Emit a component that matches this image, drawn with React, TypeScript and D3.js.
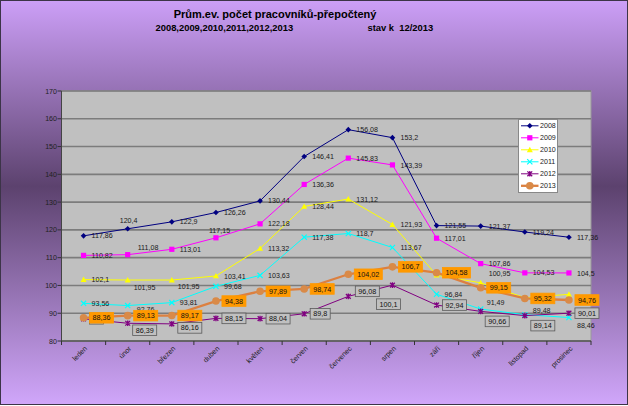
import React, { useEffect } from 'react';
import * as d3 from 'd3';

const months = ['leden', 'únor', 'březen', 'duben', 'květen', 'červen', 'červenec', 'srpen', 'září', 'říjen', 'listopad', 'prosinec'];
const years = ['2008', '2009', '2010', '2011', '2012', '2013'];
const v2008 = [117.86, 120.4, 122.9, 126.26, 130.44, 146.41, 156.08, 153.2, 121.55, 121.37, 119.24, 117.36];
const v2009 = [110.82, 111.08, 113.01, 117.15, 122.18, 136.36, 145.83, 143.39, 117.01, 107.86, 104.53, 104.5];
const v2010 = [102.1, 101.95, 101.95, 103.41, 113.32, 128.44, 131.12, 121.93, 103.7, 100.95, 95.6, 96.8];
const v2011 = [93.56, 92.76, 93.81, 99.68, 103.63, 117.38, 118.7, 113.67, 96.84, 91.49, 89.48, 88.46];
const v2012 = [88.0, 86.39, 86.16, 88.15, 88.04, 89.8, 96.08, 100.1, 92.94, 90.66, 89.14, 90.01];
const v2013 = [88.36, 89.13, 89.17, 94.38, 97.89, 98.74, 104.02, 106.7, 104.58, 99.15, 95.32, 94.76];
const yTicks = [80, 90, 100, 110, 120, 130, 140, 150, 160, 170];

const W = 628;
const H = 406;
const plot = { left: 61.5, right: 591, top: 91, bottom: 341 };
const FONT = '"Liberation Sans", Arial, sans-serif';

const seriesList = [
  { name: years[0], values: v2008, color: '#000080', marker: 'diamond', width: 1, label: 'plain' },
  { name: years[1], values: v2009, color: '#ff00ff', marker: 'square', width: 1, label: 'plain' },
  { name: years[2], values: v2010, color: '#ffff00', marker: 'triangle', width: 1, label: 'plain' },
  { name: years[3], values: v2011, color: '#00ffff', marker: 'x', width: 1, label: 'plain' },
  { name: years[4], values: v2012, color: '#800080', marker: 'star', width: 1, label: 'gray' },
  { name: years[5], values: v2013, color: '#dc8040', marker: 'circle', width: 2.3, label: 'orange' },
];

// hand-moved labels: [dx of label left edge, dy of label centre] from the point
const labelMoves: Record<string, [number, number]> = {
  '2008-1': [-8, -8],
  '2009-1': [10, -7],
  '2009-3': [-7, -7],
  '2010-1': [6, 7],
  '2010-2': [6, 6],
  '2010-9': [8, -9],
  '2010-11': [8, 3],
  '2011-1': [9, 4],
  '2011-9': [6, -7],
  '2011-10': [8, -4.5],
  '2011-11': [8, 8],
  '2012-1': [5, 7],
  '2012-2': [6, 4],
  '2012-6': [7, -5],
  '2012-7': [-16, 19],
  '2012-9': [4.5, 10],
  '2012-10': [6, 10],
};

const fmt = (v: number) => String(v).replace('.', ',');
const textW = (s: string, fs: number) =>
  s.split('').reduce((a, c) => a + (c === ',' ? 0.278 : 0.556) * fs, 0);

function Marker({ type, x, y, color }: { type: string; x: number; y: number; color: string }) {
  const t = `translate(${x},${y})`;
  if (type === 'diamond') return <path transform={t} d="M0,-2.8L2.8,0L0,2.8L-2.8,0Z" fill={color} />;
  if (type === 'square') return <rect transform={t} x={-2.6} y={-2.6} width={5.2} height={5.2} fill={color} />;
  if (type === 'triangle') return <path transform={t} d="M0,-3L3,2.4L-3,2.4Z" fill={color} />;
  if (type === 'x')
    return <path transform={t} d="M-2.6,-2.6L2.6,2.6M-2.6,2.6L2.6,-2.6" stroke={color} strokeWidth={1.2} />;
  if (type === 'star')
    return <path transform={t} d="M-2.4,-2.4L2.4,2.4M-2.4,2.4L2.4,-2.4M0,-2.8L0,2.8" stroke={color} strokeWidth={1.3} />;
  return <circle cx={x} cy={y} r={3.8} fill="#d98a48" />;
}

export default function App() {
  useEffect(() => {
    document.body.style.margin = '0';
  }, []);

  const x = d3.scaleBand().domain(months).range([plot.left, plot.right]);
  const cx = (m: string) => (x(m) as number) + x.bandwidth() / 2;
  const y = d3.scaleLinear().domain([80, 170]).range([plot.bottom, plot.top]);
  const line = d3.line<number>().x((_, i) => cx(months[i])).y(d => y(d));

  const fs = 7.1;

  return (
    <svg width={W} height={H} style={{ display: 'block', position: 'absolute', left: 0, top: 0 }} fontFamily={FONT}>
      <defs>
        <linearGradient id="bg" x1="0" y1="0" x2="0" y2="1">
          <stop offset="0" stopColor="#cc9ff7" />
          <stop offset="0.46" stopColor="#5c426e" />
          <stop offset="1" stopColor="#d0a6fa" />
        </linearGradient>
      </defs>
      <rect x={0.5} y={0.5} width={W - 1} height={H - 2} fill="url(#bg)" stroke="#3c3448" />

      <text x={275} y={17.5} textAnchor="middle" fontSize={11} fontWeight="bold" fill="#000">
        Prům.ev. počet pracovníků-přepočtený
      </text>
      <text x={155.5} y={31} fontSize={9.4} fontWeight="bold" fill="#000">
        2008,2009,2010,2011,2012,2013
      </text>
      <text x={367.5} y={31} fontSize={9.4} fontWeight="bold" fill="#000" style={{ whiteSpace: 'pre' }}>
        stav k  12/2013
      </text>

      {/* plot area */}
      <rect x={plot.left} y={plot.top} width={plot.right - plot.left} height={plot.bottom - plot.top} fill="#c0c0c0" stroke="#9a9a9a" />
      {yTicks.map(t => (
        <g key={t}>
          <line x1={plot.left} x2={plot.right} y1={y(t)} y2={y(t)} stroke="#7c7c7c" strokeWidth={1.6} />
          <line x1={plot.left - 4} x2={plot.left} y1={y(t)} y2={y(t)} stroke="#333" />
          <text x={57} y={y(t) + 2.5} textAnchor="end" fontSize={fs} fill="#222">{t}</text>
        </g>
      ))}
      <line x1={plot.left} x2={plot.left} y1={plot.top} y2={plot.bottom} stroke="#444" />
      <line x1={plot.left} x2={plot.right} y1={plot.bottom} y2={plot.bottom} stroke="#444" />
      {months.map((m, i) => (
        <g key={m}>
          <line x1={x(m)} x2={x(m)} y1={plot.bottom} y2={plot.bottom + 4} stroke="#333" />
          {i === months.length - 1 && (
            <line x1={plot.right} x2={plot.right} y1={plot.bottom} y2={plot.bottom + 4} stroke="#333" />
          )}
          <text
            transform={`translate(${cx(m) + 4},${plot.bottom + 8}) rotate(-45)`}
            textAnchor="end"
            fontSize={fs}
            fill="#222"
          >
            {m}
          </text>
        </g>
      ))}

      {/* lines and markers */}
      {seriesList.map(s => (
        <g key={s.name}>
          <path d={line(s.values) as string} fill="none" stroke={s.color} strokeWidth={s.width} />
          {s.values.map((v, i) => (
            <Marker key={i} type={s.marker} x={cx(months[i])} y={y(v)} color={s.marker === 'circle' ? '#d98a48' : s.color} />
          ))}
        </g>
      ))}

      {/* data labels */}
      {seriesList.map(s => (
        <g key={s.name}>
          {s.values.map((v, i) => {
            const px = cx(months[i]);
            const py = y(v);
            const txt = fmt(v);
            const mv = labelMoves[`${s.name}-${i}`];
            const boxed = s.label !== 'plain';
            const lfs = boxed ? 7.2 : fs;
            const tw = textW(txt, lfs);
            const bw = tw + 6;
            const left = px + (mv ? mv[0] : boxed ? 6 : 8);
            const mid = py + (mv ? mv[1] : 0);
            if (!boxed)
              return (
                <text key={i} x={left} y={mid + 2.6} fontSize={lfs} fill="#1a1a1a">{txt}</text>
              );
            return (
              <g key={i}>
                <rect
                  x={left}
                  y={mid - 5.3}
                  width={bw}
                  height={10.6}
                  fill={s.label === 'orange' ? '#ff9900' : '#c0c0c0'}
                  stroke={s.label === 'orange' ? '#ff9900' : '#5a5a5a'}
                  strokeWidth={0.8}
                />
                <text x={left + bw / 2} y={mid + 2.6} textAnchor="middle" fontSize={lfs} fill="#111">{txt}</text>
              </g>
            );
          })}
        </g>
      ))}

      {/* legend */}
      <g>
        <rect x={518.5} y={119.5} width={39} height={73} fill="#fff" stroke="#888" />
        {seriesList.map((s, i) => {
          const ly = 125.8 + i * 12;
          return (
            <g key={s.name}>
              <line x1={521} x2={538.5} y1={ly} y2={ly} stroke={s.color} strokeWidth={s.width} />
              <Marker type={s.marker} x={529.8} y={ly} color={s.marker === 'circle' ? '#d98a48' : s.color} />
              <text x={540} y={ly + 2.5} fontSize={fs} fill="#222">{s.name}</text>
            </g>
          );
        })}
      </g>
    </svg>
  );
}
